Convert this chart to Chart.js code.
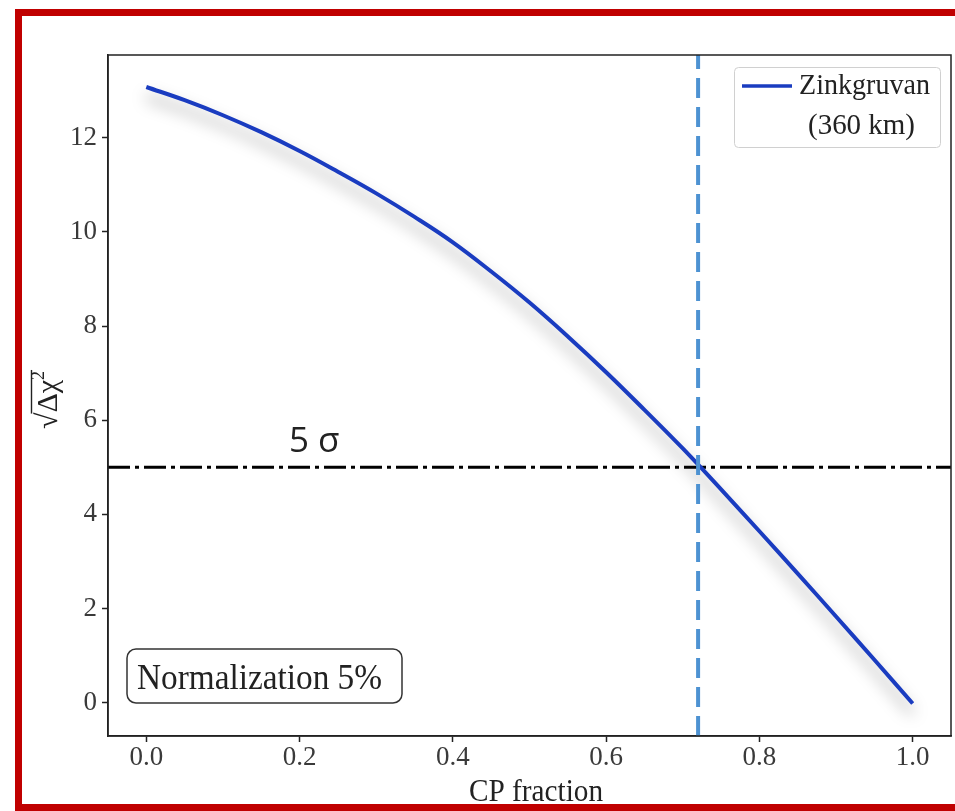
<!DOCTYPE html>
<html>
<head>
<meta charset="utf-8">
<script src="https://cdn.jsdelivr.net/npm/chart.js@4.4.1/dist/chart.umd.min.js"></script>
<style>
  html, body { margin: 0; padding: 0; background: #fff; }
  #wrap { position: relative; width: 955px; height: 811px; overflow: hidden; }
  #frame {
    position: absolute; left: 15px; top: 9px; width: 960px; height: 788px;
    border: 7px solid #c00000; border-right: none; box-sizing: content-box;
    pointer-events: none;
  }
  canvas { position: absolute; left: 0; top: 0; }
</style>
</head>
<body>
<div id="wrap">
  <canvas id="chart" width="955" height="811"></canvas>
  <div id="frame"></div>
</div>
<script>
// values
const cpFraction = [0, 0.05, 0.1, 0.15, 0.2, 0.25, 0.3, 0.35, 0.4, 0.45, 0.5,
  0.55, 0.6, 0.65, 0.7, 0.75, 0.8, 0.85, 0.9, 0.95, 1.0];
const sqrtDchi2 = [13.08, 12.80, 12.48, 12.12, 11.72, 11.28, 10.82, 10.32, 9.78, 9.16, 8.50,
  7.78, 7.02, 6.22, 5.40, 4.53, 3.64, 2.74, 1.83, 0.91, -0.02];
const sigmaLevel = 5;
const cpAtSigma = 0.72;
const xTicks = [0, 0.2, 0.4, 0.6, 0.8, 1.0];
const yTicks = [0, 2, 4, 6, 8, 10, 12];
const xRange = [-0.05, 1.05];
const yRange = [-0.71, 13.76];

const legendLines = ['Zinkgruvan', '(360 km)'];
const boxText = 'Normalization 5%';
const sigmaText = '5 σ';

const serif = '"Liberation Serif", "DejaVu Serif", serif';
const curveColor = '#1a3cc0';

const shadowPlugin = {
  id: 'curveShadow',
  beforeDatasetDraw(chart, args) {
    if (args.index !== 0) return;
    const ctx = chart.ctx;
    ctx.save();
    ctx.shadowColor = 'rgba(0,0,0,0.4)';
    ctx.shadowBlur = 16;
    ctx.shadowOffsetX = 0;
    ctx.shadowOffsetY = 10;
  },
  afterDatasetDraw(chart, args) {
    if (args.index !== 0) return;
    chart.ctx.restore();
  },
};

function roundRect(ctx, x, y, w, h, r) {
  ctx.beginPath();
  ctx.moveTo(x + r, y);
  ctx.arcTo(x + w, y, x + w, y + h, r);
  ctx.arcTo(x + w, y + h, x, y + h, r);
  ctx.arcTo(x, y + h, x, y, r);
  ctx.arcTo(x, y, x + w, y, r);
  ctx.closePath();
}

// condensed serif text, squeezed to a target width
function squeezedText(ctx, text, x, y, size, width) {
  ctx.save();
  ctx.font = size + 'px ' + serif;
  const w = ctx.measureText(text).width;
  ctx.translate(x, y);
  ctx.scale(width / w, 1);
  ctx.fillText(text, 0, 0);
  ctx.restore();
}

const decorPlugin = {
  id: 'decor',
  afterDraw(chart) {
    const ctx = chart.ctx;
    const a = chart.chartArea;
    ctx.save();

    // plot frame
    ctx.strokeStyle = '#222';
    ctx.lineWidth = 1.5;
    ctx.strokeRect(a.left, a.top, a.right - a.left, a.bottom - a.top);

    // y title: sqrt(delta chi^2)
    ctx.save();
    ctx.translate(47, 400);
    ctx.rotate(-Math.PI / 2);
    ctx.fillStyle = '#222';
    ctx.textBaseline = 'alphabetic';
    ctx.font = '30px ' + serif;
    const wr = ctx.measureText('√').width;
    const wi = ctx.measureText('Δχ').width;
    ctx.font = '18px ' + serif;
    const ws = ctx.measureText('2').width;
    const total = wr + wi + ws;
    const x0 = -total / 2;
    ctx.font = '30px ' + serif;
    ctx.fillText('√', x0, 10);
    ctx.fillText('Δχ', x0 + wr, 10);
    ctx.font = '18px ' + serif;
    ctx.fillText('2', x0 + wr + wi, -3);
    ctx.strokeStyle = '#222';
    ctx.lineWidth = 1.4;
    ctx.beginPath();
    ctx.moveTo(x0 + wr - 1, -15.5);
    ctx.lineTo(x0 + total + 1, -15.5);
    ctx.stroke();
    ctx.restore();

    // x title
    ctx.fillStyle = '#222';
    ctx.textAlign = 'left';
    ctx.textBaseline = 'alphabetic';
    squeezedText(ctx, 'CP fraction', 469, 801, 31, 134);

    // legend
    ctx.strokeStyle = '#d0d0d0';
    ctx.lineWidth = 1;
    roundRect(ctx, 734.5, 67.5, 206, 80, 4);
    ctx.fillStyle = '#fff';
    ctx.fill();
    ctx.stroke();
    ctx.strokeStyle = curveColor;
    ctx.lineWidth = 3.5;
    ctx.beginPath();
    ctx.moveTo(742, 86);
    ctx.lineTo(792, 86);
    ctx.stroke();
    ctx.fillStyle = '#222';
    squeezedText(ctx, legendLines[0], 799, 94, 30, 131);
    squeezedText(ctx, legendLines[1], 808, 134, 30, 107);

    // normalization box
    ctx.strokeStyle = '#333';
    ctx.lineWidth = 1.5;
    roundRect(ctx, 127, 649, 275, 54, 9);
    ctx.fillStyle = '#fff';
    ctx.fill();
    ctx.stroke();
    ctx.fillStyle = '#222';
    squeezedText(ctx, boxText, 137, 689, 36, 245);

    // 5 sigma label
    ctx.fillStyle = '#222';
    ctx.font = '35px "Open Sans", "Noto Sans", sans-serif';
    ctx.fillText(sigmaText, 289, 452);

    ctx.restore();
  },
};

const tickFont = { family: serif, size: 27 };

new Chart(document.getElementById('chart'), {
  type: 'line',
  data: {
    datasets: [
      {
        label: legendLines.join(' '),
        data: cpFraction.map((x, i) => ({ x, y: sqrtDchi2[i] })),
        borderColor: curveColor,
        borderWidth: 4,
        pointRadius: 0,
        tension: 0.4,
        order: 1,
      },
      {
        label: 'sigma',
        data: [{ x: xRange[0], y: sigmaLevel }, { x: xRange[1], y: sigmaLevel }],
        borderColor: '#000',
        borderWidth: 3,
        borderDash: [22, 5, 4, 5],
        pointRadius: 0,
        order: 2,
      },
      {
        label: 'cp',
        data: [{ x: cpAtSigma, y: yRange[0] }, { x: cpAtSigma, y: yRange[1] }],
        borderColor: '#4d92d2',
        borderWidth: 4,
        borderDash: [20, 9],
        pointRadius: 0,
        order: 0,
      },
    ],
  },
  options: {
    responsive: false,
    animation: false,
    layout: { padding: { top: 55, right: 4, left: 0, bottom: 0 } },
    plugins: {
      legend: { display: false },
      tooltip: { enabled: false },
    },
    scales: {
      x: {
        type: 'linear',
        min: xRange[0],
        max: xRange[1],
        afterBuildTicks: (s) => { s.ticks = xTicks.map((v) => ({ value: v })); },
        afterFit: (s) => { s.height = 75; },
        ticks: {
          font: tickFont,
          color: '#3a3a3a',
          padding: 0,
          maxRotation: 0,
          callback: (v) => Number(v).toFixed(1),
        },
        grid: { drawOnChartArea: false, tickLength: 6, tickColor: '#222', tickWidth: 1.5 },
        border: { display: true, color: '#222', width: 1.5 },
      },
      y: {
        type: 'linear',
        min: yRange[0],
        max: yRange[1],
        afterBuildTicks: (s) => { s.ticks = yTicks.map((v) => ({ value: v })); },
        afterFit: (s) => { s.width = 108; },
        ticks: {
          font: tickFont,
          color: '#3a3a3a',
          padding: 5,
          callback: (v) => String(v),
        },
        grid: { drawOnChartArea: false, tickLength: 6, tickColor: '#222', tickWidth: 1.5 },
        border: { display: true, color: '#222', width: 1.5 },
      },
    },
  },
  plugins: [shadowPlugin, decorPlugin],
});
</script>
</body>
</html>
